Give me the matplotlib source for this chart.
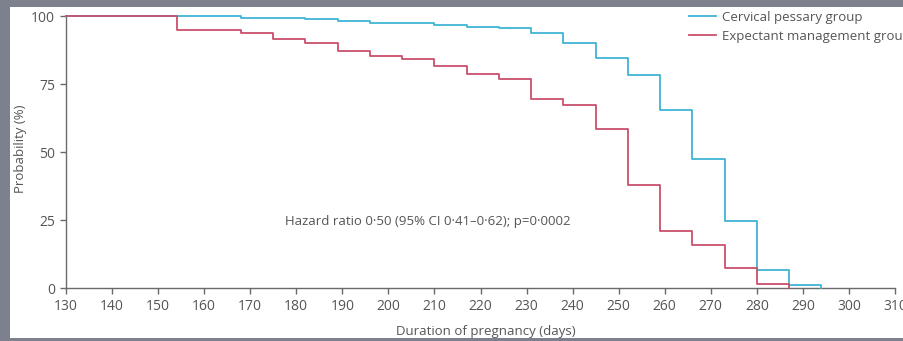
import matplotlib
matplotlib.use("Agg")
import matplotlib.pyplot as plt
from matplotlib.patches import Rectangle

# Data
pessary_days = [130, 168, 182, 189, 196, 210, 217, 224, 231, 238, 245, 252, 259, 266, 273, 280, 287, 294]
pessary_prob = [100, 99.4, 98.9, 98.0, 97.4, 96.8, 96.1, 95.5, 93.6, 90.2, 84.4, 78.2, 65.3, 47.4, 24.5, 6.8, 1.2, 0]
expect_days = [130, 154, 168, 175, 182, 189, 196, 203, 210, 217, 224, 231, 238, 245, 252, 259, 266, 273, 280, 287]
expect_prob = [100, 95.0, 93.6, 91.7, 90.0, 87.1, 85.4, 84.3, 81.5, 78.8, 76.7, 69.5, 67.2, 58.6, 37.8, 21.0, 15.7, 7.5, 1.6, 0]
x_ticks = list(range(130, 311, 10))
y_ticks = [0, 25, 50, 75, 100]
series_labels = ["Cervical pessary group", "Expectant management group"]
annotation = "Hazard ratio 0\u00b750 (95% CI 0\u00b741\u20130\u00b762); p=0\u00b70002"

plt.rcParams['font.family'] = ['Open Sans', 'DejaVu Sans']

W, H = 904, 341
fig = plt.figure(figsize=(W / 100, H / 100), dpi=100)
fig.patch.set_facecolor("#7c818d")
fig.patches.append(Rectangle((10 / W, 3 / H), 1 - 10 / W, (338 - 7) / H,
                             transform=fig.transFigure, facecolor="white",
                             edgecolor="none", zorder=-5))

ax = fig.add_axes([66 / W, (H - 288) / H, (895 - 66) / W, (288 - 16) / H])
ax.set_facecolor("none")
ax.set_zorder(2)

cyan = "#3fb4d6"
red = "#c9506b"
ax.step(pessary_days, pessary_prob, where="post", color=cyan, lw=1.3,
        label=series_labels[0], clip_on=False, zorder=3)
ax.step(expect_days, expect_prob, where="post", color=red, lw=1.3,
        label=series_labels[1], clip_on=False, zorder=3)

ax.set_xlim(130, 310)
ax.set_ylim(0, 100)
ax.set_xticks(x_ticks)
ax.set_yticks(y_ticks)

spine_c = "#6a6a6a"
for s in ["top", "right"]:
    ax.spines[s].set_visible(False)
for s in ["left", "bottom"]:
    ax.spines[s].set_color(spine_c)
    ax.spines[s].set_linewidth(1.0)
ax.tick_params(direction="out", length=4.5, width=1.0, color=spine_c,
               labelcolor="#555555", labelsize=10)
ax.tick_params(axis="x", pad=3.5)
ax.tick_params(axis="y", pad=3.5)

ax.set_ylabel("Probability (%)", color="#555555", fontsize=9.5)
ax.set_xlabel("Duration of pregnancy (days)", color="#555555", fontsize=9.5)
ax.yaxis.set_label_coords(-0.047, 0.511)
ax.xaxis.set_label_coords(0.506, -0.136)

ax.text(208.6, 24.5, annotation, ha="center", va="center",
        color="#555555", fontsize=9.5)

leg = ax.legend(loc="upper left", bbox_to_anchor=(689 / W, 1 - 11 / H),
                bbox_transform=fig.transFigure, frameon=False, fontsize=9.5,
                handlelength=2.05, handletextpad=0.45, labelspacing=0.45,
                borderpad=0, borderaxespad=0)
for t in leg.get_texts():
    t.set_color("#555555")

fig.savefig("out.png", dpi=100, facecolor=fig.get_facecolor())
